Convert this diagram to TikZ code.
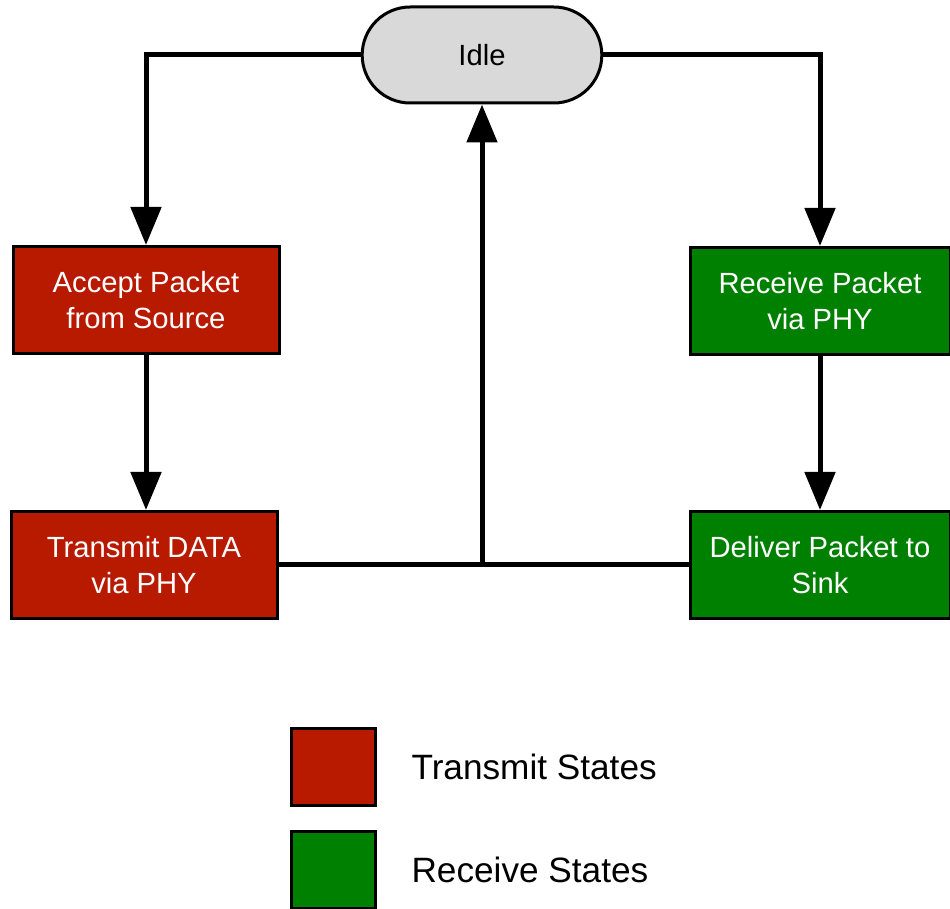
\documentclass[tikz,border=0pt]{standalone}
\usepackage{fontspec}
\setmainfont{Liberation Sans}
\usetikzlibrary{arrows.meta,shapes.misc,positioning}
\definecolor{txred}{RGB}{184,26,0}
\definecolor{rxgreen}{RGB}{0,128,0}
\definecolor{idlegray}{RGB}{217,217,217}
\tikzset{
  statebox/.style={draw=black, line width=1.5pt, minimum width=133pt, minimum height=53.5pt,
    align=center, text=white, font=\fontsize{14.6pt}{18pt}\selectfont},
  txstate/.style={statebox, fill=txred},
  rxstate/.style={statebox, fill=rxgreen, minimum width=130pt},
  legendbox/.style={draw=black, line width=1.5pt, minimum width=42pt, minimum height=38.5pt},
  flow/.style={line width=2.5pt, -{Triangle[length=19pt,width=15pt]}},
}
\begin{document}
\begin{tikzpicture}[x=0.5pt, y=-0.5pt]
	  \useasboundingbox (0,0) rectangle (950,909);

	  \node [rounded rectangle, draw, line width=1.5pt, fill=idlegray, minimum width=126.5pt,
	    minimum height=48pt, font=\fontsize{14.6pt}{18pt}\selectfont] (idle) at (482,55) {Idle};

	  \node [txstate] (accept)   at (146,300) {Accept Packet\\from Source};
	  \node [txstate] (transmit) at (144,565) {Transmit DATA\\via PHY};
	  \node [rxstate] (receive)  at (820,301) {Receive Packet\\via PHY};
	  \node [rxstate] (deliver)  at (820,565) {Deliver Packet to\\Sink};

	  \draw [flow] (idle.west) -| (accept.north);
	  \draw [flow] (idle.east) -| (receive.north);
	  \draw [flow] (accept.south) to (accept.south |- transmit.north);
	  \draw [flow] (receive) to (deliver);

	  \draw [line width=2.5pt] (transmit.east) -- (deliver.west);
	  \coordinate (join) at (idle.south |- transmit.east);
	  \draw [flow] (join) to (idle.south);

	  \node [legendbox, fill=txred]    (txkey) at (333,767) {};
	  \node [legendbox, fill=rxgreen]  (rxkey) at (333,870) {};
	  \node [right=14pt of txkey, font=\fontsize{17.6pt}{21pt}\selectfont] (txlabel) {Transmit States};
	  \node [right=14pt of rxkey, font=\fontsize{17.6pt}{21pt}\selectfont] (rxlabel) {Receive States};
	\end{tikzpicture}
\end{document}
